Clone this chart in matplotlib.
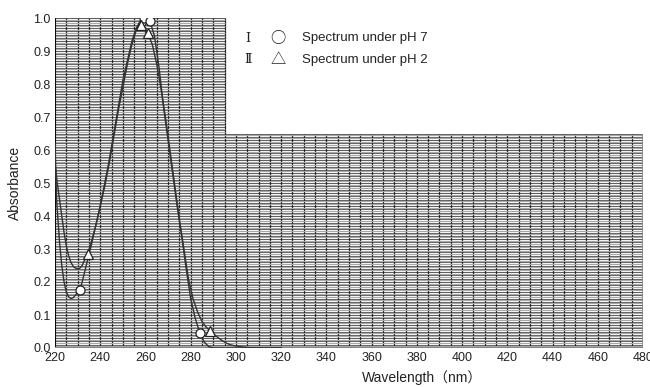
import numpy as np
import matplotlib
matplotlib.use("Agg")
import matplotlib.pyplot as plt

plt.rcParams['font.family'] = ['Liberation Sans', 'Noto Sans CJK JP', 'DejaVu Sans']

# spectrum (wavelength nm, absorbance)
wl_ph7 = [220, 220.7, 222, 223, 224, 225, 226, 227, 228, 229, 230, 231, 232, 234, 236, 238,
          240, 242, 244, 246, 248, 250, 252, 254, 256, 258, 259.5, 261, 262, 264, 266, 268,
          270, 272, 274, 276, 278, 280, 282, 284, 286, 288, 290, 300, 320]
abs_ph7 = [0.62, 0.45, 0.32, 0.25, 0.20, 0.17, 0.155, 0.15, 0.152, 0.16, 0.168, 0.176, 0.20,
           0.255, 0.31, 0.37, 0.43, 0.50, 0.57, 0.65, 0.73, 0.81, 0.87, 0.93, 0.97, 0.995,
           1.0, 0.997, 0.99, 0.945, 0.85, 0.73, 0.63, 0.53, 0.43, 0.34, 0.24, 0.15, 0.09,
           0.046, 0.018, 0.004, 0.0, 0.0, 0.0]

wl_ph2 = [220, 221, 222, 223, 224, 225, 226, 227, 228, 229, 230, 231, 232, 233, 234.4, 236,
          238, 240, 242, 244, 246, 248, 250, 252, 254, 256, 257.5, 259, 261, 263, 265, 267,
          269, 271, 273, 275, 277, 279, 281, 283, 285, 287, 288.6, 290, 292, 294, 296, 298,
          300, 303, 306, 310, 320]
abs_ph2 = [0.56, 0.50, 0.45, 0.40, 0.35, 0.31, 0.28, 0.26, 0.248, 0.242, 0.24, 0.242, 0.25,
           0.265, 0.284, 0.32, 0.37, 0.43, 0.49, 0.56, 0.64, 0.72, 0.79, 0.86, 0.92, 0.965,
           0.985, 0.975, 0.955, 0.92, 0.86, 0.78, 0.69, 0.59, 0.49, 0.39, 0.30, 0.21, 0.15,
           0.11, 0.08, 0.062, 0.052, 0.043, 0.032, 0.022, 0.014, 0.009, 0.006, 0.003, 0.001,
           0.0, 0.0]

# marked points
mk_ph7_x = [231, 259.5, 262, 284]
mk_ph7_y = [0.176, 1.0, 0.99, 0.046]
mk_ph2_x = [234.4, 258, 261, 288.6]
mk_ph2_y = [0.284, 0.98, 0.955, 0.052]

x_ticks = list(range(220, 481, 20))
y_ticks = [0.0, 0.1, 0.2, 0.3, 0.4, 0.5, 0.6, 0.7, 0.8, 0.9, 1.0]

fig = plt.figure(figsize=(6.5, 3.87), dpi=100)
ax = fig.add_axes([55 / 650, 39 / 387, 588 / 650, 330 / 387])

# chart paper grid: full height up to 295 nm, 0.65 beyond
x_cut, y_cut = 295, 0.65
vx = np.arange(220, 481, 5)
ax.vlines(vx, 0, np.where(vx <= x_cut, 1.0, y_cut), color="#222222", lw=0.9, zorder=1)
hy = np.round(np.arange(0, 1.001, 0.01), 3)
ax.hlines(hy, 220, np.where(hy <= y_cut, 480, x_cut), color="#1a1a1a", lw=0.5, zorder=1)
gy = np.round(np.arange(0.005, 1.0, 0.01), 3)
ax.hlines(gy, 220, np.where(gy <= y_cut, 480, x_cut), color="#a8a8a8", lw=0.9, zorder=1)
ax.vlines([220], 0, 1.0, color="black", lw=1.2, zorder=2)
ax.hlines([0], 220, 480, color="#888888", lw=1.6, zorder=2)
ax.vlines([480], 0, y_cut, color="#888888", lw=1.2, zorder=2)

ax.plot(wl_ph7, abs_ph7, color="#333333", lw=1.0, zorder=3)
ax.plot(wl_ph2, abs_ph2, color="#333333", lw=1.0, zorder=3)
ax.plot(mk_ph7_x, mk_ph7_y, "o", ms=6.5, mfc="white", mec="#222222", mew=0.9, zorder=4)
ax.plot(mk_ph2_x, mk_ph2_y, "^", ms=6.5, mfc="white", mec="#222222", mew=0.9, zorder=4)

# legend
sym_font = ['Noto Sans CJK JP', 'DejaVu Sans']
num_font = ['DejaVu Serif', 'Noto Sans CJK JP']
ax.text(305.3, 0.939, "Ⅰ", ha="center", va="center", fontsize=9, family=num_font, color="#222222")
ax.text(305.3, 0.873, "Ⅱ", ha="center", va="center", fontsize=9, family=num_font, color="#222222")
ax.text(318.7, 0.939, "○", ha="center", va="center", fontsize=11, family=sym_font, color="#222222")
ax.text(318.7, 0.873, "△", ha="center", va="center", fontsize=11, family=sym_font, color="#222222")
ax.text(329, 0.939, "Spectrum under pH 7", ha="left", va="center", fontsize=9.5, color="#222222")
ax.text(329, 0.873, "Spectrum under pH 2", ha="left", va="center", fontsize=9.5, color="#222222")

ax.set_xlim(220, 480)
ax.set_ylim(0, 1.0)
ax.set_xticks(x_ticks)
ax.set_yticks(y_ticks)
ax.set_yticklabels([f"{v:.1f}" for v in y_ticks])
ax.tick_params(length=0, labelsize=9, colors="#222222", pad=3)
for s in ax.spines.values():
    s.set_visible(False)

ax.set_ylabel("Absorbance", fontsize=10, color="#222222", labelpad=8)
fig.text(422 / 650, 9 / 387, "Wavelength（nm）", ha="center", va="center", fontsize=10, color="#222222")

plt.savefig("out.png", dpi=100)
